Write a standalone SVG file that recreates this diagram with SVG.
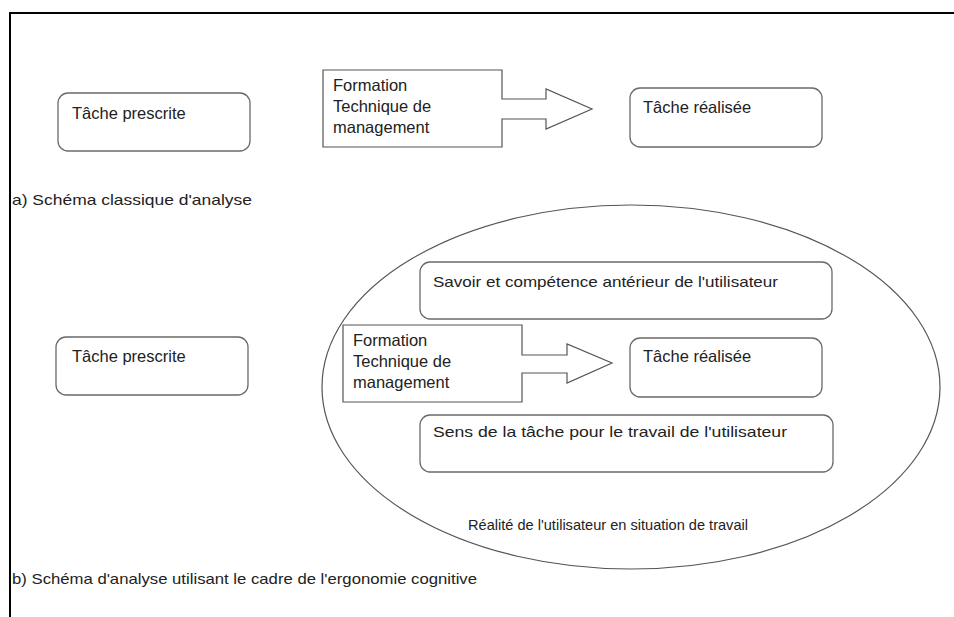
<svg xmlns="http://www.w3.org/2000/svg" width="954" height="617" viewBox="0 0 954 617">
<style>
.box{fill:#fff;stroke:#6a6a6a;stroke-width:1.3}
.shape{fill:#fff;stroke:#555;stroke-width:1.2}
.t{font-family:"Liberation Sans",Arial,sans-serif;font-size:15px;fill:#222}
.l{font-size:16.5px}
.frame{stroke:#000;stroke-width:2;fill:none}
</style>
<rect width="954" height="617" fill="#fff"/>
<path class="frame" d="M10,617 V13 H954"/>
<g id="section-a">
<g id="a-prescrite"><rect class="box" x="58" y="93" width="192" height="58" rx="10"/><text class="t l" x="72" y="119">Tâche prescrite</text></g>
<g id="a-formation"><path class="shape" d="M323,70 H502 V99 H546 V89 L592,109 L546,129 V119 H502 V147 H323 Z"/>
<text class="t l" x="333" y="91">Formation</text><text class="t l" x="333" y="112">Technique de</text><text class="t l" x="333" y="133">management</text></g>
<g id="a-realisee"><rect class="box" x="630" y="88" width="192" height="59" rx="10"/><text class="t l" x="643" y="113">Tâche réalisée</text></g>
<text id="a-caption" class="t" x="12" y="205" textLength="240" lengthAdjust="spacingAndGlyphs">a) Schéma classique d'analyse</text>
</g>
<g id="section-b">
<g id="b-ellipse"><ellipse cx="631" cy="387" rx="309" ry="182" fill="none" stroke="#555" stroke-width="1.2"/><text class="t" x="468" y="530" textLength="280" lengthAdjust="spacingAndGlyphs">Réalité de l'utilisateur en situation de travail</text></g>
<g id="b-prescrite"><rect class="box" x="56" y="337" width="192" height="58" rx="10"/><text class="t l" x="72" y="362">Tâche prescrite</text></g>
<g id="b-savoir"><rect class="box" x="420" y="262" width="412" height="57" rx="10"/><text class="t" x="433" y="287" textLength="345" lengthAdjust="spacingAndGlyphs">Savoir et compétence antérieur de l'utilisateur</text></g>
<g id="b-formation"><path class="shape" d="M343,325 H522 V355 H567 V344 L612,363 L567,383 V373 H522 V402 H343 Z"/>
<text class="t l" x="353" y="346">Formation</text><text class="t l" x="353" y="367">Technique de</text><text class="t l" x="353" y="388">management</text></g>
<g id="b-realisee"><rect class="box" x="630" y="338" width="192" height="59" rx="10"/><text class="t l" x="643" y="362">Tâche réalisée</text></g>
<g id="b-sens"><rect class="box" x="420" y="415" width="413" height="57" rx="10"/><text class="t" x="433" y="437" textLength="354" lengthAdjust="spacingAndGlyphs">Sens de la tâche pour le travail de l'utilisateur</text></g>
<text id="b-caption" class="t" x="12" y="584" textLength="465" lengthAdjust="spacingAndGlyphs">b) Schéma d'analyse utilisant le cadre de l'ergonomie cognitive</text>
</g>
<g id="connectors"></g>
</svg>
